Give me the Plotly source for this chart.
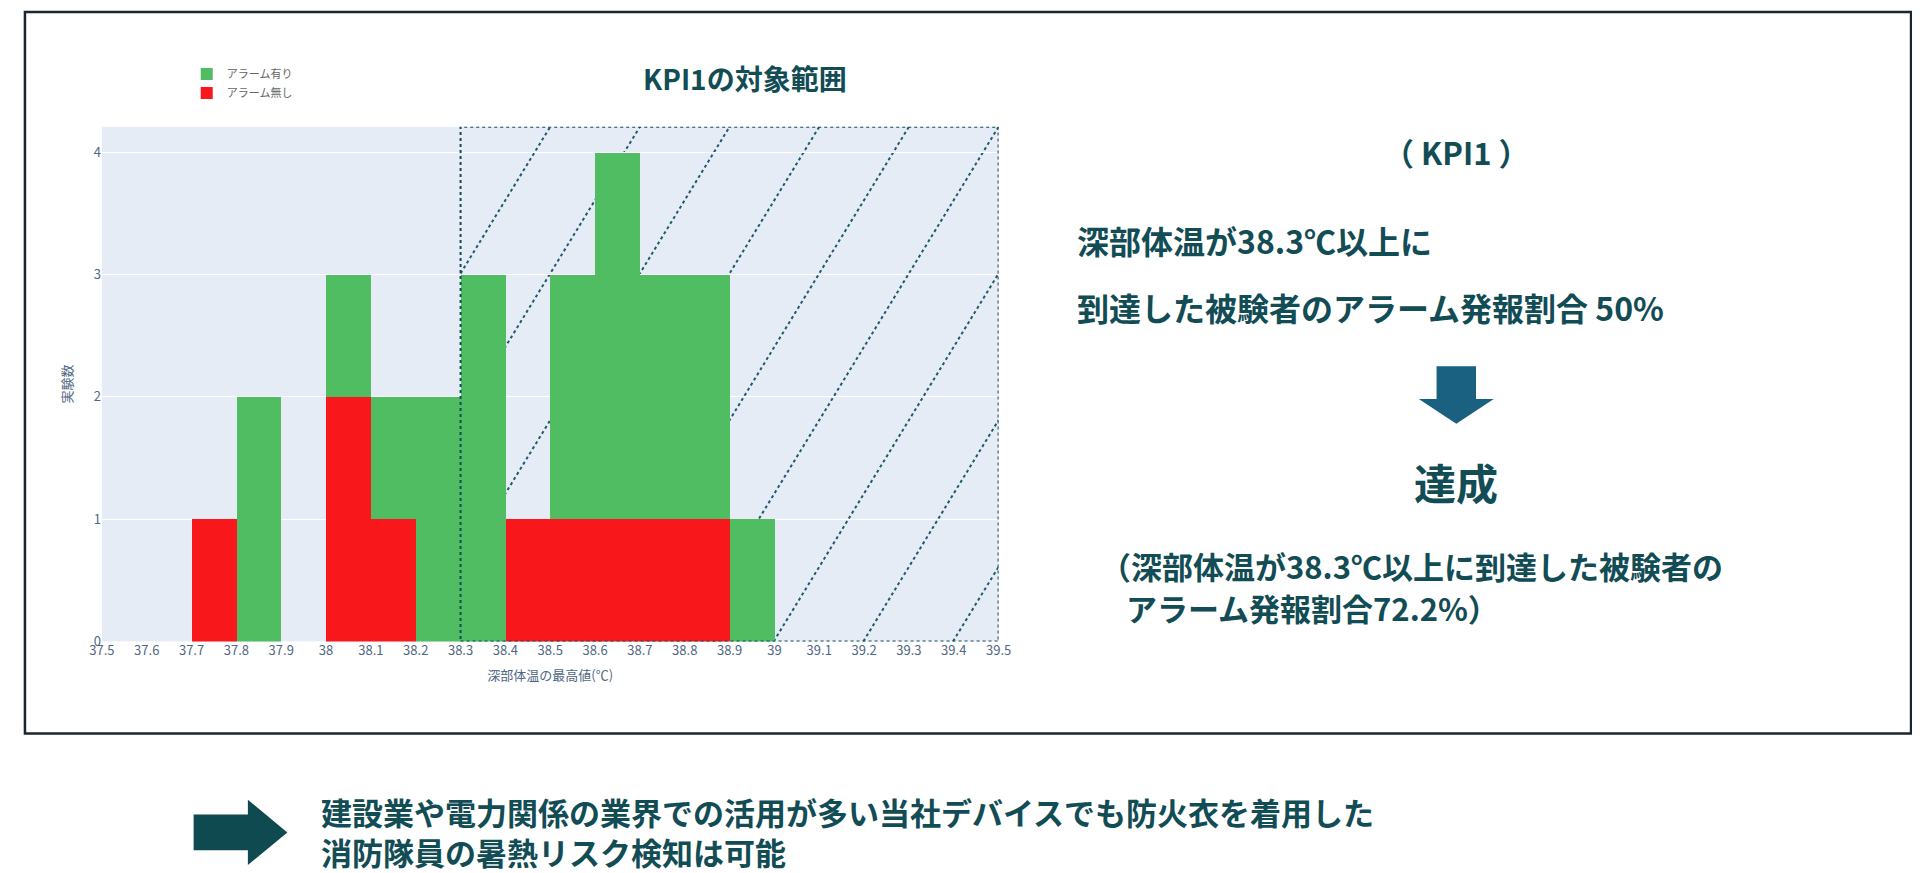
import plotly.graph_objects as go

W, H = 1920, 873

# histogram bins (lower edge, width 0.1)
bins_red = [37.7, 38.0, 38.1, 38.4, 38.5, 38.6, 38.7, 38.8]
count_red = [1, 2, 1, 1, 1, 1, 1, 1]
bins_green = [37.8, 38.0, 38.1, 38.2, 38.3, 38.5, 38.6, 38.7, 38.8, 38.9]
count_green = [2, 1, 1, 2, 3, 2, 3, 2, 2, 1]
x_ticks = [round(37.5 + 0.1 * i, 1) for i in range(21)]

TEAL = "#124c55"
FONT = "Noto Sans CJK JP"


def px(x):
    return x / W


def py(y):
    return 1 - y / H


fig = go.Figure()
fig.add_trace(go.Bar(x=[b + 0.05 for b in bins_red], y=count_red, width=0.1,
                     name="アラーム無し", marker=dict(color="#f8171a", line_width=0)))
fig.add_trace(go.Bar(x=[b + 0.05 for b in bins_green], y=count_green, width=0.1,
                     name="アラーム有り", marker=dict(color="#50bd62", line_width=0)))

shapes = []
# hatch lines in KPI region (drawn under bars)
x0r, x1r, ytop = 38.3, 39.5, 4.21
slope = 6.0
start = 38.3 - ytop / slope
k = 0
while True:
    xb = start + 0.2 * k
    k += 1
    if xb > x1r:
        break
    xa, ya = xb, 0.0
    xt, yt = xb + ytop / slope, ytop
    if xa < x0r:
        ya = (x0r - xa) * slope
        xa = x0r
    if xt > x1r:
        yt = (x1r - xb) * slope
        xt = x1r
    if ya >= ytop:
        continue
    shapes.append(dict(type="line", xref="x", yref="y", x0=xa, y0=ya, x1=xt, y1=yt,
                       line=dict(color="#1d5a70", width=2, dash="dot"), layer="below"))
shapes.append(dict(type="rect", xref="x", yref="y", x0=x0r, x1=x1r, y0=0, y1=ytop,
                   line=dict(color="#164a55", width=2, dash="dot")))
# outer frame
shapes.append(dict(type="rect", xref="paper", yref="paper", x0=px(4), x1=px(1916),
                   y0=py(733), y1=py(4), line=dict(color="#1a2530", width=2.5)))
# down arrow
ax, ay = 1455, 362
shapes.append(dict(type="path", xref="paper", yref="paper", fillcolor="#1a6080", line_width=0,
                   path=f"M {px(ax-20)},{py(ay)} L {px(ax+20)},{py(ay)} L {px(ax+20)},{py(ay+33)} "
                        f"L {px(ax+38)},{py(ay+33)} L {px(ax)},{py(ay+58)} L {px(ax-38)},{py(ay+33)} "
                        f"L {px(ax-20)},{py(ay+33)} Z"))
# right block arrow at bottom
shapes.append(dict(type="path", xref="paper", yref="paper", fillcolor="#0e4a4f", line_width=0,
                   path=f"M {px(175)},{py(815)} L {px(230)},{py(815)} L {px(230)},{py(800)} "
                        f"L {px(270)},{py(833)} L {px(230)},{py(866)} L {px(230)},{py(851)} "
                        f"L {px(175)},{py(851)} Z"))

ann = []


def note(text, x, y, size, xanchor="left", bold=True):
    ann.append(dict(text=f"<b>{text}</b>" if bold else text, xref="paper", yref="paper",
                    x=px(x), y=py(y), xanchor=xanchor, yanchor="middle", showarrow=False,
                    font=dict(family=FONT, size=size, color=TEAL)))


note("KPI1の対象範囲", 734, 71, 28, "center")
note("（ KPI1 ）", 1455, 145, 31, "center")
note("深部体温が38.3℃以上に", 1068, 234, 32)
note("到達した被験者のアラーム発報割合 50%", 1068, 302, 32)
note("達成", 1455, 478, 42, "center")
note("（深部体温が38.3℃以上に到達した被験者の", 1092, 563, 31)
note("アラーム発報割合72.2%）", 1118, 606, 31)
note("建設業や電力関係の業界での活用が多い当社デバイスでも防火衣を着用した", 302, 812, 31)
note("消防隊員の暑熱リスク検知は可能", 302, 852, 31)

fig.update_layout(
    width=W, height=H, margin=dict(l=0, r=0, t=0, b=0),
    paper_bgcolor="white", plot_bgcolor="#e5ecf6",
    barmode="stack", bargap=0,
    font=dict(family=FONT, color="#506784"),
    shapes=shapes, annotations=ann,
    legend=dict(x=px(168), y=py(52), xanchor="left", yanchor="top", traceorder="reversed",
                font=dict(size=11, color="#666"), bgcolor="rgba(0,0,0,0)"),
    xaxis=dict(domain=[px(82), px(991)], range=[37.5, 39.5], tickvals=x_ticks,
               ticktext=[f"{t:g}" for t in x_ticks], showgrid=False, zeroline=False,
               tickfont=dict(size=13, color="#506784"),
               title=dict(text="深部体温の最高値(℃)", font=dict(size=13, color="#506784"), standoff=12)),
    yaxis=dict(domain=[py(640), py(120)], range=[0, ytop], dtick=1, gridcolor="white",
               zeroline=False, tickfont=dict(size=13, color="#506784"),
               title=dict(text="実験数", font=dict(size=13, color="#506784"), standoff=18)),
)

fig.write_html("out.html")
